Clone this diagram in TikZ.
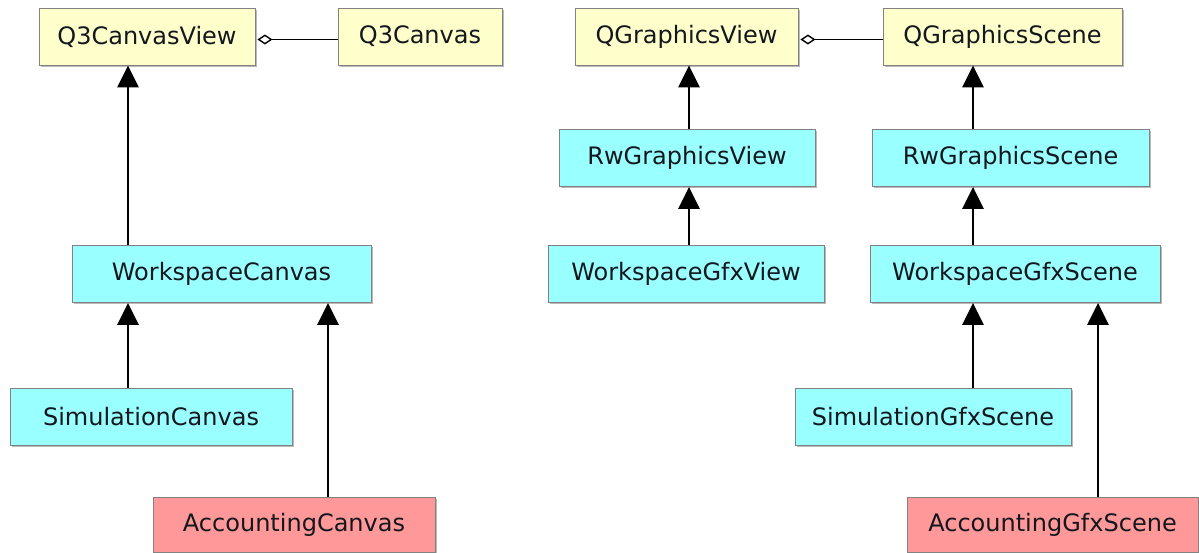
\documentclass[tikz,border=0pt]{standalone}
\usepackage{fontspec}
\setmainfont{DejaVu Sans}
\usetikzlibrary{arrows.meta,shadows}
\definecolor{boxyellow}{RGB}{255,255,204}
\definecolor{boxcyan}{RGB}{153,255,255}
\definecolor{boxred}{RGB}{255,153,153}
\definecolor{boxline}{RGB}{130,130,130}
\definecolor{txt}{RGB}{20,24,30}
\tikzset{
  cls/.style={draw=boxline, line width=0.8pt, inner sep=0pt, minimum height=57pt,
    font=\fontsize{24}{28}\selectfont, text=txt,
    drop shadow={shadow xshift=1.8pt, shadow yshift=-1.8pt, opacity=0.45, fill=black!60}},
  qt/.style={cls, fill=boxyellow},
  rw/.style={cls, fill=boxcyan},
  acct/.style={cls, fill=boxred},
  inh/.style={line width=2.8pt, -{Triangle[length=22pt,width=21pt]}},
  agg/.style={line width=1.8pt, {Diamond[open,length=15pt,width=10pt,line width=1.4pt]}-, shorten <=2pt},
}
\begin{document}
\begin{tikzpicture}[x=1pt,y=1pt]
\useasboundingbox (0,0) rectangle (1199,-552);
% row 1
\node[qt, minimum width=216pt] (q3v) at (147,-36.5) {Q3CanvasView};
\node[qt, minimum width=164pt] (q3c) at (420,-36.5) {Q3Canvas};
\node[qt, minimum width=223pt] (qgv) at (686.5,-36.5) {QGraphicsView};
\node[qt, minimum width=239pt] (qgs) at (1002.5,-36.5) {QGraphicsScene};
% row 2
\node[rw, minimum width=256pt] (rwv) at (687,-158) {RwGraphicsView};
\node[rw, minimum width=277pt] (rws) at (1010.5,-158) {RwGraphicsScene};
% row 3
\node[rw, minimum width=299pt] (wc) at (221.5,-274) {WorkspaceCanvas};
\node[rw, minimum width=276pt] (wgv) at (686,-274) {WorkspaceGfxView};
\node[rw, minimum width=290pt] (wgs) at (1015,-274) {WorkspaceGfxScene};
% row 4
\node[rw, minimum width=282pt] (sim) at (151,-417) {SimulationCanvas};
\node[rw, minimum width=276pt] (sgs) at (933,-417) {SimulationGfxScene};
% row 5
\node[acct, minimum width=282pt, minimum height=55pt] (acc) at (294,-524.5) {AccountingCanvas};
\node[acct, minimum width=291pt, minimum height=55pt] (ags) at (1052.5,-524.5) {AccountingGfxScene};
% x positions of connectors
\coordinate (xa) at (128,0);
\coordinate (xb) at (328,0);
\coordinate (xc) at (689,0);
\coordinate (xd) at (973,0);
\coordinate (xe) at (1098,0);
% aggregations
\draw[agg] ([yshift=-3pt]q3v.east) -- ([yshift=-3pt]q3c.west);
\draw[agg] ([yshift=-3pt]qgv.east) -- ([yshift=-3pt]qgs.west);
% inheritance
\draw[inh] (wc.north -| xa) -- (q3v.south -| xa);
\draw[inh] (sim.north -| xa) -- (wc.south -| xa);
\draw[inh] (acc.north -| xb) -- (wc.south -| xb);
\draw[inh] (rwv.north -| xc) -- (qgv.south -| xc);
\draw[inh] (wgv.north -| xc) -- (rwv.south -| xc);
\draw[inh] (rws.north -| xd) -- (qgs.south -| xd);
\draw[inh] (wgs.north -| xd) -- (rws.south -| xd);
\draw[inh] (sgs.north -| xd) -- (wgs.south -| xd);
\draw[inh] (ags.north -| xe) -- (wgs.south -| xe);
\end{tikzpicture}
\end{document}
